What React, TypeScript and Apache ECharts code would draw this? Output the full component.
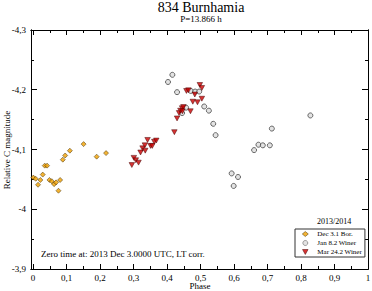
import React, { useEffect, useRef } from "react";
import * as echarts from "echarts";

const FONT = "'Liberation Serif', 'Times New Roman', serif";

const xTickValues = [0, 0.1, 0.2, 0.3, 0.4, 0.5, 0.6, 0.7, 0.8, 0.9, 1];
const xMinorValues = [0.05, 0.15, 0.25, 0.35, 0.45, 0.55, 0.65, 0.75, 0.85, 0.95];
const yTickValues = [-4.3, -4.2, -4.1, -4, -3.9];
const yMinorValues = [-4.25, -4.15, -4.05, -3.95];

const decPhase = [0.001, 0.008, 0.015, 0.022, 0.029, 0.035, 0.042, 0.049, 0.056, 0.063, 0.069, 0.076, 0.081, 0.089, 0.096, 0.11, 0.151, 0.19, 0.218];
const decMag = [-4.053, -4.051, -4.041, -4.049, -4.058, -4.073, -4.073, -4.049, -4.047, -4.042, -4.045, -4.031, -4.049, -4.083, -4.09, -4.098, -4.109, -4.088, -4.094];

const janPhase = [0.416, 0.403, 0.43, 0.471, 0.484, 0.496, 0.457, 0.445, 0.511, 0.525, 0.538, 0.545, 0.593, 0.612, 0.599, 0.66, 0.673, 0.686, 0.707, 0.713, 0.828];
const janMag = [-4.225, -4.213, -4.196, -4.198, -4.197, -4.197, -4.17, -4.161, -4.172, -4.165, -4.143, -4.124, -4.06, -4.054, -4.039, -4.099, -4.108, -4.107, -4.107, -4.135, -4.157];

const marPhase = [0.295, 0.301, 0.307, 0.315, 0.321, 0.327, 0.334, 0.335, 0.342, 0.351, 0.356, 0.362, 0.368, 0.422, 0.43, 0.436, 0.44, 0.445, 0.449, 0.446, 0.47, 0.477, 0.491, 0.504, 0.483, 0.458, 0.464, 0.498, 0.504];
const marMag = [-4.074, -4.086, -4.082, -4.078, -4.095, -4.102, -4.107, -4.098, -4.116, -4.106, -4.106, -4.113, -4.115, -4.129, -4.152, -4.161, -4.165, -4.169, -4.171, -4.164, -4.164, -4.18, -4.179, -4.185, -4.192, -4.198, -4.199, -4.208, -4.203];

const seriesNames = ["Dec 3.1 Bor.", "Jan 8.2 Winer", "Mar 24.2 Winer"];

const fmt = (v: number) => (Math.round(v * 10) / 10).toString().replace(".", ",");
const zip = (a: number[], b: number[]) => a.map((v, i) => [v, b[i]]);

const X_MIN = -0.006;
const X_MAX = 1;

function xAxisDef(position: "top" | "bottom", ticks: number[], len: number, labels: boolean) {
  return {
    type: "value",
    position,
    min: X_MIN,
    max: X_MAX,
    splitLine: { show: false },
    axisLine: { show: true, onZero: false, lineStyle: { color: "#000", width: 1 } },
    axisTick: { show: true, inside: true, length: len, customValues: ticks, lineStyle: { color: "#000", width: 1 } },
    axisLabel: labels
      ? { show: true, customValues: ticks, formatter: fmt, fontFamily: FONT, fontSize: 9, color: "#000", margin: 4 }
      : { show: false },
  };
}

function yAxisDef(position: "left" | "right", ticks: number[], len: number, labels: boolean) {
  return {
    type: "value",
    position,
    min: -4.3,
    max: -3.9,
    inverse: true,
    splitLine: { show: false },
    axisLine: { show: true, onZero: false, lineStyle: { color: "#000", width: 1 } },
    axisTick: { show: true, inside: true, length: len, customValues: ticks, lineStyle: { color: "#000", width: 1 } },
    axisLabel: labels
      ? { show: true, customValues: ticks, formatter: fmt, fontFamily: FONT, fontSize: 9, color: "#000", margin: 5 }
      : { show: false },
  };
}

export default function App() {
  const ref = useRef<HTMLDivElement>(null);
  useEffect(() => {
    document.body.style.margin = "0";
    const chart = echarts.init(ref.current!, null, { renderer: "svg" });
    chart.setOption({
      animation: false,
      backgroundColor: "#fff",
      grid: { left: 31, right: 4, top: 30, bottom: 22, containLabel: false, outerBoundsMode: "none" },
      xAxis: [
        xAxisDef("bottom", xTickValues, 5, true),
        xAxisDef("bottom", xMinorValues, 3, false),
        xAxisDef("top", xTickValues, 5, false),
        xAxisDef("top", xMinorValues, 3, false),
      ],
      yAxis: [
        yAxisDef("left", yTickValues, 6, true),
        yAxisDef("left", yMinorValues, 3, false),
        yAxisDef("right", yTickValues, 6, false),
        yAxisDef("right", yMinorValues, 3, false),
      ],
      legend: {
        show: true,
        orient: "vertical",
        left: 295,
        top: 229,
        padding: [1.5, 3, 1.5, 7],
        itemWidth: 6,
        itemHeight: 5,
        itemGap: 2,
        borderColor: "#333",
        borderWidth: 1,
        backgroundColor: "#fff",
        itemStyle: { borderWidth: 0.6 },
        textStyle: { fontFamily: FONT, fontSize: 7, color: "#000", lineHeight: 7, padding: [0, 0, 0, 4] },
        data: seriesNames,
      },
      graphic: [
        {
          type: "text",
          style: { text: "834 Burnhamia", fontFamily: FONT, fontSize: 14, fill: "#000", x: 201, y: 7, align: "center", verticalAlign: "middle" },
        },
        {
          type: "text",
          style: { text: "P=13.866 h", fontFamily: FONT, fontSize: 9, fill: "#000", x: 201, y: 19, align: "center", verticalAlign: "middle" },
        },
        {
          type: "text",
          style: { text: "Phase", fontFamily: FONT, fontSize: 9, fill: "#000", x: 200, y: 286, align: "center", verticalAlign: "middle" },
        },
        {
          type: "text",
          x: 7,
          y: 150,
          rotation: Math.PI / 2,
          style: { text: "Relative C magnitude", fontFamily: FONT, fontSize: 9, fill: "#000", x: 0, y: 0, align: "center", verticalAlign: "middle" },
        },
        {
          type: "text",
          style: { text: "Zero time at: 2013 Dec 3.0000 UTC, LT corr.", fontFamily: FONT, fontSize: 9, fill: "#000", x: 41, y: 254, align: "left", verticalAlign: "middle" },
        },
        {
          type: "text",
          style: { text: "2013/2014", fontFamily: FONT, fontSize: 8, fill: "#000", x: 317, y: 221, align: "left", verticalAlign: "middle" },
        },
      ],
      series: [
        {
          name: seriesNames[0],
          type: "scatter",
          xAxisIndex: 0,
          yAxisIndex: 0,
          symbol: "diamond",
          symbolSize: 5,
          itemStyle: { color: "#f0a000", borderColor: "#3a2800", borderWidth: 0.6 },
          data: zip(decPhase, decMag),
        },
        {
          name: seriesNames[1],
          type: "scatter",
          xAxisIndex: 0,
          yAxisIndex: 0,
          symbol: "circle",
          symbolSize: 5,
          itemStyle: { color: "#dcdcdc", borderColor: "#444", borderWidth: 1 },
          data: zip(janPhase, janMag),
        },
        {
          name: seriesNames[2],
          type: "scatter",
          xAxisIndex: 0,
          yAxisIndex: 0,
          symbol: "path://M0,0L10,0L5,9Z",
          symbolKeepAspect: true,
          symbolSize: 5.5,
          itemStyle: { color: "#cc0000", borderColor: "#400000", borderWidth: 0.6 },
          data: zip(marPhase, marMag),
        },
      ],
    });
    return () => chart.dispose();
  }, []);
  return <div ref={ref} style={{ width: 372, height: 291, position: "absolute", left: 0, top: 0 }} />;
}
